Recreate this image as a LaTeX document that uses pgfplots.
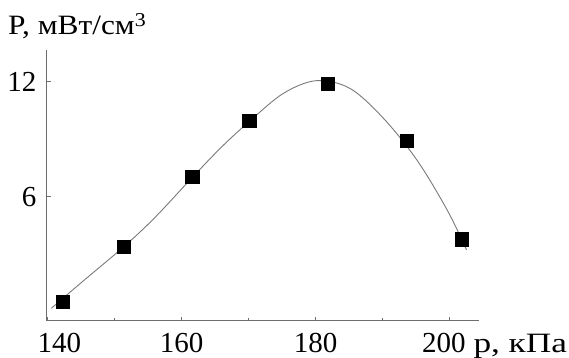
\documentclass[border=0pt]{standalone}
\usepackage{graphicx}
\usepackage{pgfplots}
\pgfplotsset{compat=1.18}
\usepackage{fontspec}
\setmainfont{Liberation Serif}
\definecolor{axgray}{HTML}{6E6E6E}
\definecolor{curvegray}{HTML}{7A7A7A}
\begin{document}
\begin{tikzpicture}
\begin{axis}[
  scale only axis,
  width=432.6bp, height=270.7bp,
  xmin=139.9, xmax=204.4,
  ymin=-0.47, ymax=13.65,
  axis x line=bottom, axis y line=left,
  axis line style={-, draw=axgray, line width=0.9bp},
  every tick/.style={draw=axgray, line width=0.9bp},
  tick align=inside,
  major tick length=4bp, minor tick length=3bp,
  xtick={140,160,180,200},
  minor xtick={150,170,190},
  ytick={6,12},
  xticklabel={\ifcase\ticknum\hspace*{24bp}140\or 160\or 180\or 200\hspace*{12bp}\fi},
  yticklabels={6,12},
  /pgf/number format/assume math mode=true,
  tick label style={font=\fontsize{29bp}{31bp}\selectfont, text=black},
  xticklabel style={anchor=north, inner sep=0pt, yshift=-12bp},
  yticklabel style={anchor=east, inner sep=0pt, xshift=-10bp},
  clip=false,
]
\addplot[smooth, tension=0.55, curvegray, line width=0.9bp] coordinates {
(140.6,0.18) (145,1.5) (151.4,3.39) (156,4.9) (161.6,7.0) (166,8.6)
(170.2,9.95) (175.2,11.39) (180.1,12.05) (185.1,11.65) (190.1,10.09)
(195.1,7.91) (199.6,5.31) (202.5,3.22)
};
\addplot[only marks, mark=square*, mark size=6.6bp, mark options={fill=black, draw=black}] coordinates {
(142.3,0.52) (151.4,3.39) (161.6,7.04) (170.1,9.95) (181.8,11.91) (193.6,8.92) (201.8,3.78)
};
\end{axis}
\node[anchor=base west, inner sep=0pt, font=\fontsize{28bp}{30bp}\selectfont] at (-38.7bp,285.7bp) {\scalebox{1.12}[1]{P, мВт/см\textsuperscript{3}}};
\node[anchor=base west, inner sep=0pt, font=\fontsize{28bp}{30bp}\selectfont] at (426.6bp,-31.3bp) {\scalebox{1.26}[1]{p, кПа}};
\pgfresetboundingbox
\path[use as bounding box] (-46.7bp,-37.3bp) rectangle (522.3bp,320.7bp);
\end{tikzpicture}
\end{document}
